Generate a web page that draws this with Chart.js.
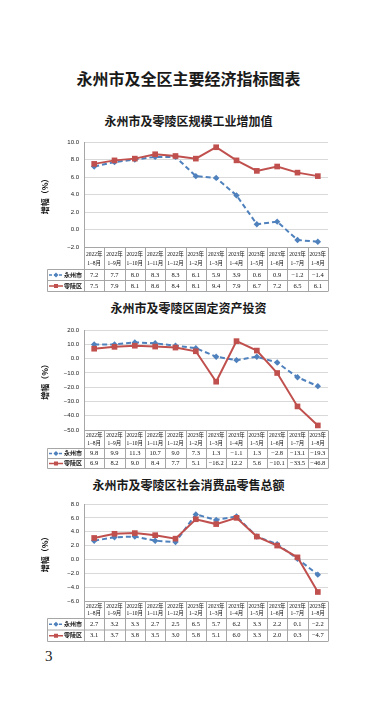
<!DOCTYPE html>
<html>
<head>
<meta charset="utf-8">
<script src="https://cdn.jsdelivr.net/npm/chart.js@4/dist/chart.umd.min.js"></script>
<style>
  body { margin: 0; background: #fff; width: 377px; height: 718px; position: relative; overflow: hidden; font-family: "Noto Sans CJK SC", sans-serif; }
  .t { position: absolute; left: 0; width: 377px; text-align: center; font-weight: bold; color: #1a1a1a; line-height: 1; }
  canvas { position: absolute; left: 0; }
  .page { position: absolute; left: 45px; top: 648px; font-family: "Liberation Serif", serif; font-size: 15px; color: #222; }
</style>
</head>
<body>
<div class="t" style="top:70px;font-size:16px">永州市及全区主要经济指标图表</div>
<div class="t" style="top:115px;font-size:12px">永州市及零陵区规模工业增加值</div>
<div class="t" style="top:302px;font-size:12px">永州市及零陵区固定资产投资</div>
<div class="t" style="top:479px;font-size:12px">永州市及零陵区社会消费品零售总额</div>

<canvas id="industryChart" width="377" height="162" style="top:130px"></canvas>
<canvas id="investChart" width="377" height="151" style="top:318px"></canvas>
<canvas id="retailChart" width="377" height="151" style="top:492px"></canvas>
<div class="page">3</div>

<script>
// 数据
const years = ['2022年', '2022年', '2022年', '2022年', '2022年', '2023年', '2023年', '2023年', '2023年', '2023年', '2023年', '2023年'];
const periods = ['1–8月', '1–9月', '1–10月', '1–11月', '1–12月', '1–2月', '1–3月', '1–4月', '1–5月', '1–6月', '1–7月', '1–8月'];

const industryYongzhou = [7.2, 7.7, 8.0, 8.3, 8.3, 6.1, 5.9, 3.9, 0.6, 0.9, -1.2, -1.4];
const industryLingling = [7.5, 7.9, 8.1, 8.6, 8.4, 8.1, 9.4, 7.9, 6.7, 7.2, 6.5, 6.1];

const investYongzhou = [9.8, 9.9, 11.3, 10.7, 9.0, 7.3, 1.3, -1.1, 1.3, -2.8, -13.1, -19.3];
const investLingling = [6.9, 8.2, 9.0, 8.4, 7.7, 5.1, -16.2, 12.2, 5.6, -10.1, -33.5, -46.8];

const retailYongzhou = [2.7, 3.2, 3.3, 2.7, 2.5, 6.5, 5.7, 6.2, 3.3, 2.2, 0.1, -2.2];
const retailLingling = [3.1, 3.7, 3.8, 3.5, 3.0, 5.8, 5.1, 6.0, 3.3, 2.0, 0.3, -4.7];

const BLUE = '#4f81bd';
const RED = '#c0504d';
const SERIF = '"Liberation Serif", "Noto Sans CJK SC", serif';

function fmt(v) {
  return v.toFixed(1).replace('-', '−');
}

// 表格插件：在图表下方画数据表
function tablePlugin(headH, rowH) {
  return {
    id: 'dataTable',
    afterDraw(chart) {
      const ctx = chart.ctx;
      const area = chart.chartArea;
      const n = periods.length;
      const colW = (area.right - area.left) / n;
      const top = Math.round(area.bottom) + 0.5;
      const legLeft = 47.5;
      const rows = chart.data.datasets;
      ctx.save();
      ctx.strokeStyle = '#a6a6a6';
      ctx.lineWidth = 1;
      const bottom = top + headH + rowH * 2;
      ctx.beginPath();
      // 横线
      ctx.moveTo(area.left, top); ctx.lineTo(area.right, top);
      ctx.moveTo(legLeft, top + headH); ctx.lineTo(area.right, top + headH);
      ctx.moveTo(legLeft, top + headH + rowH); ctx.lineTo(area.right, top + headH + rowH);
      ctx.moveTo(legLeft, bottom); ctx.lineTo(area.right, bottom);
      // 竖线
      for (let i = 0; i <= n; i++) {
        const x = Math.round(area.left + i * colW) + 0.5;
        ctx.moveTo(x, top); ctx.lineTo(x, bottom);
      }
      ctx.moveTo(legLeft, top + headH); ctx.lineTo(legLeft, bottom);
      ctx.stroke();

      ctx.fillStyle = '#111';
      ctx.textAlign = 'center';
      ctx.textBaseline = 'middle';
      ctx.font = '5.5px ' + SERIF;
      for (let i = 0; i < n; i++) {
        const cx = area.left + (i + 0.5) * colW;
        ctx.fillText(years[i], cx, top + headH * 0.3);
        ctx.fillText(periods[i], cx, top + headH * 0.72);
      }
      ctx.font = '6.5px ' + SERIF;
      const order = [rows.find(d => d.label === '永州市'), rows.find(d => d.label === '零陵区')];
      order.forEach((ds, r) => {
        const cy = top + headH + rowH * (r + 0.5);
        for (let i = 0; i < n; i++) {
          const cx = area.left + (i + 0.5) * colW;
          ctx.fillText(fmt(ds.data[i]), cx, cy);
        }
        // 图例
        ctx.strokeStyle = ds.borderColor;
        ctx.lineWidth = 1.5;
        ctx.setLineDash(ds.borderDash ? [3, 2] : []);
        ctx.beginPath();
        ctx.moveTo(49, cy); ctx.lineTo(63, cy);
        ctx.stroke();
        ctx.setLineDash([]);
        ctx.fillStyle = ds.borderColor;
        if (ds.pointStyle === 'rectRot') {
          ctx.beginPath();
          ctx.moveTo(56, cy - 2.5); ctx.lineTo(58.5, cy); ctx.lineTo(56, cy + 2.5); ctx.lineTo(53.5, cy);
          ctx.closePath(); ctx.fill();
        } else {
          ctx.fillRect(54, cy - 2, 4, 4);
        }
        ctx.fillStyle = '#111';
        ctx.textAlign = 'left';
        ctx.font = 'bold 6px ' + SERIF;
        ctx.fillText(ds.label, 64, cy);
        ctx.font = '6.5px ' + SERIF;
        ctx.textAlign = 'center';
      });
      ctx.restore();
    }
  };
}

function makeChart(id, yz, ll, min, max, step, padTop, padBottom, headH, rowH) {
  const ctx = document.getElementById(id).getContext('2d');
  return new Chart(ctx, {
    type: 'line',
    data: {
      labels: periods,
      datasets: [
        {
          label: '永州市',
          data: yz,
          borderColor: BLUE,
          backgroundColor: BLUE,
          borderWidth: 2,
          borderDash: [5, 3],
          pointStyle: 'rectRot',
          pointRadius: 3.2,
          pointBorderWidth: 0,
          order: 1
        },
        {
          label: '零陵区',
          data: ll,
          borderColor: RED,
          backgroundColor: RED,
          borderWidth: 2,
          pointStyle: 'rect',
          pointRadius: 4,
          pointBorderWidth: 0,
          order: 0
        }
      ]
    },
    options: {
      responsive: false,
      animation: false,
      layout: { padding: { left: 40, right: 49, top: padTop, bottom: padBottom } },
      plugins: { legend: { display: false }, tooltip: { enabled: false } },
      scales: {
        x: { display: false, offset: true },
        y: {
          min: min,
          max: max,
          afterFit(scale) { scale.width = 44; },
          border: { color: '#a6a6a6' },
          grid: { color: '#d9d9d9', drawTicks: false },
          ticks: {
            stepSize: step,
            padding: 5,
            color: '#222',
            font: { size: 6, family: '"Liberation Sans", sans-serif' },
            callback: v => fmt(v)
          },
          title: {
            display: true,
            text: '增幅（%）',
            color: '#111',
            font: { size: 8, weight: 'bold', family: '"Noto Sans CJK SC", sans-serif' },
            padding: { top: 0, bottom: 0 }
          }
        }
      }
    },
    plugins: [tablePlugin(headH, rowH)]
  });
}

makeChart('industryChart', industryYongzhou, industryLingling, -2, 10, 2, 12, 45, 22, 11);
makeChart('investChart', investYongzhou, investLingling, -50, 20, 10, 12, 39, 18, 10);
makeChart('retailChart', retailYongzhou, retailLingling, -6, 8, 2, 12, 42, 17, 11.5);
</script>
</body>
</html>
